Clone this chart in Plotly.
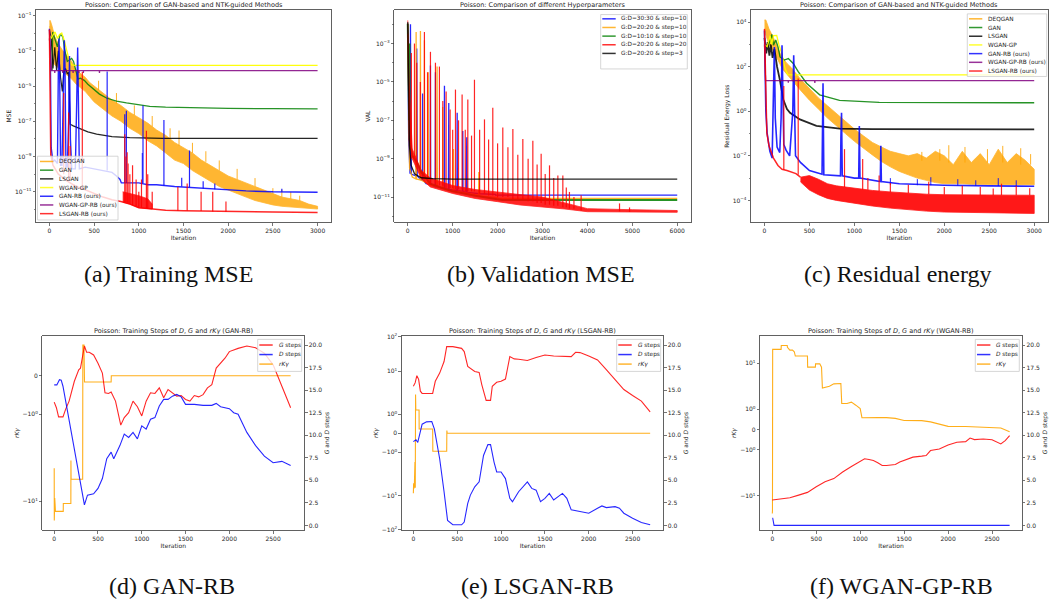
import numpy as np
import plotly.graph_objects as go

W, H = 1050, 607
FONT = "DejaVu Sans"
SERIF = "Liberation Serif"

# ============================ DATA ============================
METHODS = ["DEQGAN", "GAN", "LSGAN", "WGAN-GP", "GAN-RB (ours)", "WGAN-GP-RB (ours)", "LSGAN-RB (ours)"]
METHOD_COLORS = ["orange", "green", "black", "yellow", "blue", "purple", "red"]
HYPER = ["G:D=30:30 & step=10", "G:D=20:20 & step=10", "G:D=10:10 & step=10",
         "G:D=20:20 & step=20", "G:D=20:20 & step=3"]
HYPER_COLORS = ["blue", "orange", "green", "red", "black"]
STEP_NAMES = ["<i>G</i> steps", "<i>D</i> steps", "<i>rKγ</i>"]
STEP_COLORS = ["red", "blue", "orange"]
CAPTIONS = ["(a) Training MSE", "(b) Validation MSE", "(c) Residual energy",
            "(d) GAN-RB", "(e) LSGAN-RB", "(f) WGAN-GP-RB"]
TOP_TITLES = ["Poisson: Comparison of GAN-based and NTK-guided Methods",
              "Poisson: Comparison of different Hyperparameters",
              "Poisson: Comparison of GAN-based and NTK-guided Methods"]
BOTTOM_TITLES = ["Poisson: Training Steps of <i>D</i>, <i>G</i> and <i>rKγ</i> (GAN-RB)",
                 "Poisson: Training Steps of <i>D</i>, <i>G</i> and <i>rKγ</i> (LSGAN-RB)",
                 "Poisson: Training Steps of <i>D</i>, <i>G</i> and <i>rKγ</i> (WGAN-RB)"]

# ---------- (a) Training MSE ----------
A_DEQ_ITER = [0, 10, 30, 60, 100, 150, 200, 250, 300, 350, 400, 450, 500, 600, 700, 800, 900, 1000, 1100, 1200,
              1300, 1400, 1500, 1600, 1700, 1800, 1900, 2000, 2100, 2200, 2300, 2400, 2500, 2600, 2700, 2800, 2900, 3000]
A_DEQ_HI = [5e-2, 5.2e-2, 2.5e-2, 6.3e-3, 2.5e-3, 1e-3, 5e-4, 2.5e-4, 7.9e-5, 5e-5, 3.2e-5, 1.6e-5, 1e-5, 4e-6,
            1.6e-6, 7.9e-7, 3.2e-7, 1.6e-7, 7.9e-8, 3.2e-8, 1.6e-8, 6.3e-9, 3.2e-9, 1.6e-9, 6.3e-10, 3.2e-10,
            1.6e-10, 7.9e-11, 5e-11, 3.2e-11, 2e-11, 1.26e-11, 7.9e-12, 5e-12, 4e-12, 3.2e-12, 2e-12, 1.5e-12]
A_DEQ_LO = [2.5e-2, 1.6e-2, 2.5e-3, 1.6e-4, 1e-4, 6.3e-5, 4e-5, 2.5e-5, 1.26e-5, 7.9e-6, 5e-6, 2.5e-6, 1.26e-6,
            5e-7, 2e-7, 1e-7, 4e-8, 2e-8, 7.9e-9, 4e-9, 1.6e-9, 6.3e-10, 4e-10, 1.6e-10, 7.9e-11, 4e-11, 2e-11,
            1.26e-11, 7.9e-12, 5e-12, 3.2e-12, 2.5e-12, 1.8e-12, 1.5e-12, 1.3e-12, 1.2e-12, 1.12e-12, 1.05e-12]
A_DEQ_SPK_ITER = [550, 750, 950, 1150, 1350, 1450, 1600, 1750, 1900, 2100, 2300, 2500, 2600, 2700, 2800]
A_DEQ_SPK_BASE = [6e-6, 1e-6, 2.2e-7, 5e-8, 1e-8, 4e-9, 1.6e-9, 5e-10, 1.6e-10, 5e-11, 2e-11, 7.9e-12, 5e-12,
                  4e-12, 3.2e-12]
A_DEQ_SPK_PEAK = [2e-5, 4e-6, 8e-7, 2e-7, 4e-8, 3e-8, 6e-9, 2e-9, 6e-10, 2e-10, 6e-11, 1.6e-11, 1.3e-11, 1e-11,
                  6e-12]
A_GAN_ITER = [30, 37, 60, 89, 120, 150, 170, 200, 230, 249, 270, 290, 320, 345, 365, 390, 430, 501, 560, 638,
              750, 862, 1000, 1122, 1300, 1493, 2000, 2500, 3000]
A_GAN_MSE = [7.9e-5, 1.17e-2, 5e-3, 1.66e-3, 8.9e-3, 6.3e-3, 1.26e-3, 2.5e-4, 3.2e-4, 3.7e-4, 2.5e-4, 1e-4,
             2.5e-5, 2.8e-5, 2.4e-5, 2.1e-5, 1.26e-5, 6.2e-6, 3.5e-6, 2.1e-6, 1.4e-6, 1.1e-6, 8.3e-7, 7.1e-7,
             6.3e-7, 5.9e-7, 5.4e-7, 5.2e-7, 5.1e-7]
A_LSGAN_ITER = [0, 20, 40, 60, 80, 100, 125, 145, 160, 180, 200, 215, 225, 232, 267, 350, 430, 528, 700, 899,
                1270, 2000, 3000]
A_LSGAN_MSE = [1.5e-2, 5e-3, 1e-4, 1.6e-3, 8e-5, 1e-3, 3e-5, 5e-6, 6e-5, 1e-4, 5e-5, 6e-5, 1e-6, 6.8e-8,
               5.5e-8, 3.5e-8, 2.5e-8, 1.86e-8, 1.35e-8, 1.2e-8, 1.07e-8, 1.07e-8, 1.07e-8]
A_WGP_ITER = [0, 20, 40, 63, 90, 110, 138, 165, 193, 220, 249, 300, 3000]
A_WGP_MSE = [7.9e-3, 5e-3, 7.9e-3, 1.17e-2, 5e-3, 7.9e-3, 1.02e-2, 4e-3, 1.1e-3, 3.2e-4, 1.6e-4, 1.5e-4, 1.5e-4]
A_GANRB_ITER = [0, 10, 20, 40, 60, 90, 100, 108, 116, 125, 140, 155, 167, 175, 185, 200, 215, 225, 235, 250,
                290, 305, 316, 325, 335, 400, 500, 600, 700, 750, 790, 805, 900, 1000, 1100, 1200, 1400, 1560,
                1700, 1800, 2000, 2200, 2500, 3000]
A_GANRB_MSE = [1.8e-2, 1e-3, 3.2e-9, 5e-10, 6.3e-10, 4e-10, 1e-4, 5e-3, 1e-5, 3.2e-10, 3.2e-10, 1e-6, 4e-3,
               1e-4, 2.5e-10, 2.5e-10, 1e-7, 5e-4, 1e-8, 2e-10, 2e-10, 1e-6, 1.55e-3, 1e-6, 2e-10, 2.5e-10,
               2e-10, 1.6e-10, 1.26e-10, 7.9e-11, 5e-11, 3.2e-11, 3.2e-11, 3.2e-11, 2.5e-11, 2.5e-11, 2e-11,
               1.8e-11, 1.6e-11, 1.4e-11, 1.26e-11, 1.12e-11, 1e-11, 9.5e-12]
A_GANRB_SPK_ITER = [646, 843, 861, 1040, 1047, 1281, 1480, 1567, 1720, 1850, 2600]
A_GANRB_SPK_BASE = [1.6e-10, 3.2e-11, 3.2e-11, 3.2e-11, 3.2e-11, 2.2e-11, 2e-11, 1.8e-11, 1.6e-11, 1.4e-11, 1e-11]
A_GANRB_SPK_PEAK = [6.6e-5, 2.5e-7, 4e-7, 1.6e-9, 7.9e-7, 1.2e-7, 6.3e-11, 2.2e-9, 4e-11, 3e-11, 1.5e-11]
A_WGPRB_ITER = [0, 15, 25, 58, 60, 62, 148, 150, 152, 263, 265, 267, 328, 330, 332, 378, 380, 382, 558, 560,
                562, 3000]
A_WGPRB_MSE = [5e-3, 2e-4, 7.6e-5, 7.6e-5, 5.5e-5, 7.6e-5, 7.6e-5, 5.5e-5, 7.6e-5, 7.6e-5, 5.5e-5, 7.6e-5,
               7.6e-5, 5.5e-5, 7.6e-5, 7.6e-5, 5.5e-5, 7.6e-5, 7.6e-5, 5.5e-5, 7.6e-5, 7.6e-5]
A_LSRB_ITER = [0, 8, 15, 40, 100, 200, 300, 400, 500, 600, 700, 800, 900, 1000, 1100, 1200, 1300, 1500, 2000,
               2500, 3000]
A_LSRB_MSE = [1.6e-2, 1e-5, 1.26e-9, 3.2e-10, 1e-10, 4e-11, 2e-11, 1.3e-11, 7.9e-12, 5e-12, 3.5e-12, 2.8e-12,
              2e-12, 1.26e-12, 1.12e-12, 1e-12, 8.9e-13, 8.3e-13, 7.4e-13, 7.1e-13, 6.6e-13]
A_LSRB_BAND_ITER = [820, 900, 1000, 1100, 1150]
A_LSRB_BAND_HI = [1e-11, 8e-12, 6e-12, 4e-12, 2e-12]
A_LSRB_BAND_LO = [2.6e-12, 2e-12, 1.26e-12, 1.12e-12, 1.05e-12]
A_LSRB_SPK_ITER = [160, 215, 232, 368, 843, 855, 870, 880, 900, 930, 970, 1000, 1030, 1085, 1100, 1150, 1437,
                   1541, 1697, 1827, 1975]
A_LSRB_SPK_BASE = [1e-10, 5e-11, 5e-11, 1.5e-11, 2.5e-12, 2.5e-12, 2.5e-12, 2.2e-12, 2e-12, 1.8e-12, 1.5e-12,
                   1.3e-12, 1.3e-12, 1.15e-12, 1.1e-12, 1.05e-12, 8.5e-13, 8.3e-13, 8e-13, 7.7e-13, 7.4e-13]
A_LSRB_SPK_PEAK = [4e-6, 3.2e-7, 4e-9, 6.3e-5, 1.86e-8, 1e-9, 1.74e-9, 4e-10, 1e-10, 3.2e-10, 5e-11, 1e-11,
                   5e-11, 2.9e-8, 1e-10, 1e-11, 1.9e-11, 2.95e-11, 1e-11, 1e-11, 2.8e-12]

# ---------- (b) Validation MSE ----------
B_H1_ITER = [0, 20, 50, 55, 60, 66, 80, 190, 200, 210, 300, 325, 330, 335, 408, 500, 505, 510, 610, 616, 622,
             810, 817, 824, 905, 913, 920, 1095, 1100, 1105, 1220, 1225, 1230, 1300, 1314, 1320, 1600, 1950,
             1955, 6000]
B_H1_VAL = [5e-3, 1e-8, 1.66e-10, 1e-5, 1e-2, 1e-6, 1.6e-10, 1.26e-10, 5.5e-4, 1.26e-10, 7.9e-11, 7.9e-11,
            2.5e-6, 7.9e-11, 5e-11, 4.5e-11, 7.1e-5, 4.5e-11, 3.5e-11, 3.2e-5, 3.5e-11, 2.8e-11, 6.3e-6,
            2.8e-11, 2.5e-11, 8.1e-7, 2.5e-11, 2.2e-11, 2.5e-7, 2.2e-11, 2e-11, 2.8e-8, 2e-11, 1.74e-11,
            1.3e-8, 1.74e-11, 1.5e-11, 1.38e-11, 1.26e-11, 1.26e-11]
B_H2_ITER = [0, 15, 40, 100, 180, 186, 192, 276, 282, 288, 365, 371, 377, 450, 456, 462, 500, 647, 653, 659,
             775, 780, 785, 1012, 1017, 1022, 1200, 1577, 1582, 1587, 1600, 2000, 2020, 6000]
B_H2_VAL = [3.2e-3, 1e-7, 3.2e-10, 1.12e-10, 8.9e-11, 4e-3, 8.9e-11, 7.9e-11, 4.5e-3, 7.9e-11, 6.3e-11,
            1.5e-3, 6.3e-11, 5e-11, 3.2e-5, 5e-11, 4.2e-11, 3.5e-11, 6.3e-5, 3.5e-11, 2.8e-11, 5e-7, 2.8e-11,
            2e-11, 3.2e-9, 2e-11, 1.8e-11, 1.26e-11, 2e-10, 1.26e-11, 1.17e-11, 9.3e-12, 8.5e-12, 8.5e-12]
B_H3_ITER = [0, 10, 20, 30, 37, 45, 100, 200, 300, 500, 800, 1000, 1500, 2000, 2100, 6000]
B_H3_VAL = [1.07e-2, 1e-4, 1e-3, 1e-7, 1e-3, 1e-8, 1.45e-9, 6.6e-10, 2e-10, 5e-11, 2.8e-11, 2e-11, 1.17e-11,
            7.9e-12, 7.1e-12, 7.1e-12]
B_H4_ITER = [0, 30, 100, 300, 500, 1000, 1500, 2000, 2500, 3000, 3500, 4000, 5000, 6000]
B_H4_HI = [1.6e-2, 1e-5, 3.2e-9, 2.5e-10, 1e-10, 4e-11, 2.5e-11, 1.86e-11, 1.4e-11, 1e-11, 5e-12, 2.5e-12,
           2.2e-12, 2e-12]
B_H4_LO = [3.2e-3, 1e-8, 1e-9, 9.1e-11, 3.4e-11, 1.55e-11, 8.5e-12, 5.8e-12, 3.9e-12, 3.2e-12, 2.4e-12,
           1.74e-12, 1.62e-12, 1.62e-12]
B_H4_SPK_ITER = [80, 149, 200, 280, 371, 440, 505, 616, 705, 780, 854, 943, 1000, 1062, 1130, 1210, 1280, 1337,
                 1420, 1485, 1600, 1708, 1800, 1893, 2000, 2116, 2230, 2340, 2450, 2562, 2680, 2785, 2880, 2970,
                 3060, 3156, 3250, 3342, 3453, 3530, 3600, 3700, 3860, 4715, 4938]
B_H4_SPK_BASE = [1e-9, 1e-9, 5e-10, 2.5e-10, 1e-10, 1e-10, 5e-11, 5e-11, 4e-11, 4e-11, 3e-11, 3e-11, 3e-11,
                 2.5e-11, 2.5e-11, 2.5e-11, 2e-11, 2e-11, 2e-11, 2e-11, 1.5e-11, 1.5e-11, 1.2e-11, 1.2e-11,
                 1e-11, 1e-11, 1e-11, 8e-12, 8e-12, 7e-12, 6e-12, 6e-12, 5e-12, 5e-12, 4e-12, 4e-12, 3.5e-12,
                 3.5e-12, 3e-12, 3e-12, 2.5e-12, 2.5e-12, 2e-12, 1.8e-12, 1.7e-12]
B_H4_SPK_PEAK = [3.2e-4, 1e-3, 1e-4, 1e-5, 4e-3, 3.2e-5, 3.7e-4, 1e-4, 6.3e-5, 1e-6, 3.2e-6, 3.7e-7, 3.2e-8,
                 4e-6, 1e-7, 2.2e-6, 3.2e-8, 1.2e-6, 1.6e-8, 1.3e-5, 3.2e-8, 1.12e-7, 1e-8, 4.5e-7, 6.3e-9,
                 4.2e-8, 4e-9, 3.5e-8, 1.6e-9, 1.05e-8, 1e-9, 8.7e-9, 5e-10, 1.8e-9, 1.6e-10, 4.5e-10, 1e-10,
                 1.35e-10, 1.35e-10, 3.2e-11, 1.86e-11, 1e-11, 1.26e-11, 4.7e-12, 2.9e-12]
B_H5_ITER = [0, 8, 20, 37, 74, 150, 300, 557, 1000, 6000]
B_H5_VAL = [1.3e-2, 1e-3, 1e-6, 4.8e-9, 4.5e-10, 1.66e-10, 1.02e-10, 9.1e-11, 8.7e-11, 8.7e-11]

# ---------- (c) Residual energy ----------
C_DEQ_ITER = [0, 15, 50, 100, 150, 200, 250, 300, 400, 500, 600, 700, 800, 900, 1000, 1100, 1200, 1300, 1400,
              1500, 1600, 1700, 1800, 1900, 2000, 2100, 2200, 2300, 2400, 2500, 2600, 2700, 2800, 2900, 3000]
C_DEQ_HI = [12589, 12589, 5012, 1995, 631, 251, 141, 89, 28, 10, 4, 1.78, 0.79, 0.35, 0.16, 0.079, 0.04, 0.025,
            0.016, 0.0126, 0.01, 0.0126, 0.0079, 0.016, 0.01, 0.004, 0.016, 0.005, 0.0126, 0.004, 0.02, 0.005,
            0.0126, 0.0063, 0.0025]
C_DEQ_LO = [3981, 3162, 1000, 501, 200, 79, 45, 28, 8.9, 3.16, 1.26, 0.5, 0.22, 0.1, 0.045, 0.022, 0.011,
            0.0056, 0.0032, 0.002, 0.0014, 0.001, 0.00079, 0.00063, 0.00056, 0.00056, 0.00056, 0.00053,
            0.00053, 0.0005, 0.0005, 0.0005, 0.0005, 0.0005, 0.0005]
C_DEQ_SPK_ITER = [1750, 1950, 2050, 2230, 2480, 2650, 2850, 2960]
C_DEQ_SPK_BASE = [0.006, 0.006, 0.005, 0.005, 0.005, 0.005, 0.004, 0.004]
C_DEQ_SPK_PEAK = [0.015, 0.02, 0.03, 0.025, 0.02, 0.028, 0.022, 0.012]
C_GAN_ITER = [0, 40, 81, 100, 125, 150, 173, 220, 265, 320, 375, 468, 614, 835, 1276, 2000, 3000]
C_GAN_LOSS = [1000, 794, 2818, 933, 1585, 794, 275, 200, 234, 141, 60, 18.2, 5.5, 3.1, 2.5, 2.4, 2.4]
C_LSGAN_ITER = [0, 20, 35, 55, 70, 90, 110, 140, 171, 210, 250, 284, 394, 578, 835, 1200, 3000]
C_LSGAN_LOSS = [1995, 398, 1259, 316, 1000, 251, 631, 100, 25.7, 3.3, 1.26, 0.85, 0.43, 0.22, 0.166, 0.158,
                0.155]
C_WGP_ITER = [0, 30, 63, 80, 100, 136, 160, 192, 230, 260, 300, 3000]
C_WGP_LOSS = [1000, 794, 2512, 1000, 2512, 2570, 1000, 389, 79, 44.7, 42.7, 42.7]
C_GANRB_ITER = [0, 5, 15, 30, 60, 85, 100, 110, 120, 140, 170, 185, 195, 205, 215, 240, 280, 315, 325, 335,
                345, 400, 500, 640, 651, 660, 800, 845, 850, 857, 865, 1000, 1048, 1055, 1062, 1200, 1288,
                1294, 1300, 1500, 2000, 2500, 3000]
C_GANRB_LOSS = [4266, 100, 1, 0.1, 0.016, 0.0079, 3.16, 776, 0.5, 0.025, 0.014, 0.5, 912, 0.5, 0.032, 0.018,
                0.01, 1, 331, 1, 0.01, 0.0051, 0.0022, 0.0015, 18.2, 0.0014, 0.0013, 0.00126, 0.063, 0.85,
                0.00126, 0.001, 0.001, 0.22, 0.001, 0.00079, 0.0007, 0.028, 0.0007, 0.00056, 0.00048,
                0.00045, 0.00043]
C_GANRB_SPK_ITER = [1400, 1700, 1850, 2150, 2350, 2600, 2800]
C_GANRB_SPK_BASE = [5e-4, 4.8e-4, 4.8e-4, 4.6e-4, 4.5e-4, 4.4e-4, 4.4e-4]
C_GANRB_SPK_PEAK = [1e-3, 9e-4, 1.1e-3, 9e-4, 8e-4, 1e-3, 8e-4]
C_WGPRB_ITER = [0, 5, 12, 263, 265, 267, 557, 560, 563, 3000]
C_WGPRB_LOSS = [1000, 100, 24, 24, 19, 24, 24, 19, 24, 24]
C_LSRB_ITER = [0, 5, 15, 26, 50, 100, 150, 195, 250, 300, 350, 400]
C_LSRB_LOSS = [5012, 316, 3.16, 0.11, 0.028, 0.0079, 0.0037, 0.0025, 0.0022, 0.0018, 0.0016, 0.0011]
C_LSRB_BAND_ITER = [400, 500, 600, 700, 800, 900, 1000, 1200, 1400, 1600, 1800, 2000, 2500, 3000]
C_LSRB_HI = [0.0011, 0.0013, 8.9e-4, 5.6e-4, 4.5e-4, 4e-4, 3.4e-4, 2.8e-4, 2.4e-4, 2.1e-4, 1.9e-4, 1.8e-4,
             1.7e-4, 1.7e-4]
C_LSRB_LO = [6.8e-4, 2.9e-4, 1.8e-4, 1.23e-4, 1e-4, 8.3e-5, 7.2e-5, 5.6e-5, 4.5e-5, 3.8e-5, 3.3e-5, 3e-5,
             2.75e-5, 2.6e-5]
C_LSRB_SPK_ITER = [215, 375, 890, 1092, 1150, 1275, 1400, 1600, 1827, 2000, 2200, 2400, 2544, 2636, 2800, 2950]
C_LSRB_SPK_BASE = [0.0024, 0.0014, 4e-4, 3e-4, 3e-4, 2.6e-4, 2.4e-4, 2.1e-4, 1.9e-4, 1.8e-4, 1.8e-4, 1.7e-4,
                   1.7e-4, 1.7e-4, 1.7e-4, 1.7e-4]
C_LSRB_SPK_PEAK = [13.5, 30, 0.02, 0.0072, 1e-3, 0.0013, 6e-4, 5e-4, 6.8e-4, 4e-4, 4.5e-4, 4e-4, 3.4e-4,
                   5.6e-4, 4.5e-4, 3.5e-4]

# ---------- (d) GAN-RB training steps ----------
D_G_ITER = [0, 25, 50, 100, 130, 170, 230, 280, 300, 330, 345, 370, 400, 450, 500, 550, 580, 620, 650, 700,
            760, 800, 850, 900, 950, 1000, 1050, 1100, 1150, 1200, 1250, 1300, 1350, 1400, 1450, 1500, 1550,
            1600, 1650, 1700, 1750, 1800, 1850, 1900, 1950, 2000, 2100, 2200, 2300, 2400, 2500, 2600, 2700]
D_G_STEPS = [13.67, 13.05, 12.03, 12.03, 12.87, 13.78, 15.98, 17.26, 17.44, 19.45, 19.89, 19.2, 19.2, 18.9,
             17.99, 16.89, 14.7, 14.63, 14.8, 13.78, 11.12, 11.96, 12.5, 13.78, 13.16, 12.14, 13.78, 14.7,
             14.63, 15.25, 14.15, 15.06, 14.7, 14.33, 14.4, 13.97, 13.78, 14.4, 14.25, 14.5, 15.25, 15.6,
             17.44, 17.99, 18.54, 19.27, 19.63, 19.89, 19.7, 19.09, 17.8, 15.43, 13.05]
D_D_ITER = [0, 30, 60, 80, 100, 200, 300, 345, 380, 450, 500, 550, 600, 650, 680, 750, 800, 850, 900, 950,
            1000, 1050, 1100, 1150, 1200, 1250, 1300, 1350, 1400, 1450, 1500, 1600, 1700, 1800, 1850, 1900,
            2000, 2050, 2100, 2200, 2300, 2400, 2500, 2600, 2700]
D_D_STEPS = [15.58, 15.58, 16.16, 16.1, 15.43, 9.95, 4.83, 2.27, 3.36, 3.5, 4.1, 5.19, 7.39, 8.12, 7.39, 8.85,
             10.13, 9.76, 10.31, 9.6, 11.04, 10.68, 11.77, 11.95, 13.24, 13.97, 13.97, 14.33, 14.52, 14.25,
             13.42, 13.42, 13.31, 13.31, 13.53, 13.16, 12.94, 12.5, 12.32, 10.31, 8.85, 7.68, 6.95, 7.1, 6.65]
D_RKG_ITER = [0, 1, 3, 6, 10, 14, 103, 104, 190, 191, 193, 325, 327, 340, 342, 346, 650, 652, 2700]
D_RKG_VAL = [-3.35, -19, -5, -9, -11, -14, -14, -10.8, -10.8, -2.6, -4.84, -4.84, 0.79, 0.79, 0, -0.17, -0.17,
             -0.01, -0.01]

# ---------- (e) LSGAN-RB training steps ----------
E_G_ITER = [0, 20, 40, 60, 80, 100, 220, 250, 300, 350, 380, 450, 550, 580, 620, 700, 750, 780, 830, 880, 900,
            950, 1000, 1050, 1100, 1150, 1200, 1300, 1400, 1500, 1600, 1700, 1800, 1850, 1900, 2000, 2100,
            2200, 2300, 2400, 2500, 2600, 2700]
E_G_STEPS = [15.43, 15.8, 16.6, 16.2, 14.88, 14.63, 14.63, 15.98, 16.89, 18.17, 19.82, 19.82, 19.63, 19.27,
             17.62, 17.07, 16.96, 15.61, 13.86, 13.86, 15.43, 15.87, 15.98, 16.23, 18.72, 18.46, 18.43, 18.28,
             18.61, 18.9, 18.79, 18.79, 18.72, 19.2, 19.16, 18.79, 18.35, 17.26, 16.16, 15.06, 14.4, 13.78,
             12.58]
E_D_ITER = [0, 30, 50, 80, 100, 150, 210, 240, 300, 350, 390, 450, 550, 580, 620, 650, 700, 750, 800, 850, 880,
            920, 950, 1000, 1050, 1100, 1130, 1200, 1250, 1300, 1350, 1400, 1450, 1500, 1550, 1600, 1700, 1750,
            1800, 1900, 2000, 2100, 2150, 2200, 2300, 2350, 2400, 2500, 2600, 2700]
E_D_STEPS = [9.29, 9.5, 9.2, 10.31, 11.22, 11.48, 11.52, 10.68, 7.39, 3.73, 0.55, 0.07, 0.07, 0.37, 2.45,
             3.36, 4.28, 4.83, 7.75, 8.96, 8.96, 7.02, 5.92, 5.92, 5.19, 3.0, 2.63, 3.73, 4.28, 4.83, 4.1,
             3.91, 2.63, 3.0, 3.55, 2.81, 3.55, 3.0, 1.72, 1.54, 1.35, 1.9, 2.16, 1.97, 2.08, 1.9, 1.35, 0.8,
             0.33, 0.07]
E_RKG_ITER = [0, 3, 8, 12, 18, 22, 25, 28, 65, 66, 220, 222, 380, 382, 386, 2700]
E_RKG_VAL = [-8.6, -4.42, -6.2, -4.4, -1.5, -6.0, 2.09, 1.22, 1.22, 0.225, 0.225, -0.945, -0.945, 0.14, 0.0, 0.0]

# ---------- (f) WGAN-GP-RB training steps ----------
F_G_ITER = [0, 100, 200, 300, 400, 500, 600, 700, 800, 900, 1000, 1050, 1100, 1150, 1200, 1250, 1300, 1400,
            1450, 1500, 1600, 1700, 1750, 1800, 1900, 2000, 2100, 2200, 2250, 2300, 2400, 2500, 2550, 2600,
            2650, 2700]
F_G_STEPS = [2.82, 2.93, 3.07, 3.36, 3.66, 4.28, 4.83, 5.19, 5.92, 6.54, 7.09, 7.39, 7.31, 7.2, 6.95, 6.65,
             6.65, 6.76, 7.02, 7.2, 7.57, 7.68, 7.75, 8.3, 8.48, 8.92, 9.22, 9.29, 9.69, 9.51, 9.58, 9.5, 9.29,
             9.03, 9.4, 9.95]
F_D_ITER = [0, 5, 20, 2700]
F_D_STEPS = [0.8, 0.8, 0.0, 0.0]
F_RKG_ITER = [0, 2, 4, 100, 102, 170, 172, 200, 230, 250, 262, 400, 402, 490, 492, 540, 560, 570, 650, 700, 780,
              790, 850, 900, 950, 1000, 1020, 1100, 1200, 1300, 1400, 1500, 1600, 1700, 1800, 1900, 2000, 2200,
              2400, 2500, 2600, 2700]
F_RKG_VAL = [-30.2, -25, 24.0, 24.0, 30.5, 30.5, 27.2, 22.9, 22.9, 20.7, 15.8, 15.8, 7.85, 7.85, 9.66, 9.66,
             7.85, 2.11, 2.35, 2.75, 2.8, 1.28, 1.28, 1.35, 1.2, 1.03, 0.585, 0.6, 0.59, 0.59, 0.55, 0.45, 0.46,
             0.44, 0.38, 0.27, 0.16, 0.15, 0.1, 0.1, 0.08, -0.1]


# ============================ HELPERS ============================
def symlog(v, linthresh=2.0, base=10.0, linscale=1.0):
    """matplotlib-style symmetric log scale transform."""
    v = np.asarray(v, dtype=float)
    adj = linscale / (1.0 - 1.0 / base)
    a = np.abs(v)
    logpart = np.sign(v) * linthresh * (adj + np.log10(np.maximum(a, linthresh) / linthresh) / np.log10(base))
    return np.where(a <= linthresh, v * adj, logpart)


def dom_x(p0, p1):
    return [p0 / W, p1 / W]


def dom_y(p0, p1):
    return [1 - p1 / H, 1 - p0 / H]


def sup(e):
    return "10<sup>" + ("−" if e < 0 else "") + str(abs(e)) + "</sup>"


fig = go.Figure()


def add_line(xa, ya, x, y, color, width=1.2, opacity=0.85):
    fig.add_trace(go.Scatter(x=list(x), y=list(y), mode="lines", xaxis=xa, yaxis=ya,
                             line=dict(color=color, width=width), opacity=opacity,
                             showlegend=False, hoverinfo="skip"))


def add_band(xa, ya, x, hi, lo, color, opacity=0.85):
    xs = list(x) + list(x)[::-1]
    ys = list(hi) + list(lo)[::-1]
    fig.add_trace(go.Scatter(x=xs, y=ys, mode="lines", fill="toself", fillcolor=color, xaxis=xa, yaxis=ya,
                             line=dict(color=color, width=0.8), opacity=opacity,
                             showlegend=False, hoverinfo="skip"))


def add_spikes(xa, ya, sx, base, peak, color, width=1.0, opacity=0.85):
    xs, ys = [], []
    for a, b, c in zip(sx, base, peak):
        xs += [a, a, None]
        ys += [b, c, None]
    fig.add_trace(go.Scatter(x=xs, y=ys, mode="lines", xaxis=xa, yaxis=ya, connectgaps=False,
                             line=dict(color=color, width=width), opacity=opacity,
                             showlegend=False, hoverinfo="skip"))


# ============================ TRACES ============================
c = dict(zip(METHODS, METHOD_COLORS))
# (a)
add_band("x", "y", A_DEQ_ITER, A_DEQ_HI, A_DEQ_LO, c["DEQGAN"], 0.8)
add_spikes("x", "y", A_DEQ_SPK_ITER, A_DEQ_SPK_BASE, A_DEQ_SPK_PEAK, c["DEQGAN"], 1.0)
add_line("x", "y", A_GAN_ITER, A_GAN_MSE, c["GAN"], 1.3)
add_line("x", "y", A_LSGAN_ITER, A_LSGAN_MSE, c["LSGAN"], 1.2)
add_line("x", "y", A_WGP_ITER, A_WGP_MSE, c["WGAN-GP"], 1.3, 0.95)
add_line("x", "y", A_GANRB_ITER, A_GANRB_MSE, c["GAN-RB (ours)"], 1.4)
add_spikes("x", "y", A_GANRB_SPK_ITER, A_GANRB_SPK_BASE, A_GANRB_SPK_PEAK, c["GAN-RB (ours)"], 1.2)
add_line("x", "y", A_WGPRB_ITER, A_WGPRB_MSE, c["WGAN-GP-RB (ours)"], 1.3)
add_line("x", "y", A_LSRB_ITER, A_LSRB_MSE, c["LSGAN-RB (ours)"], 1.5)
add_band("x", "y", A_LSRB_BAND_ITER, A_LSRB_BAND_HI, A_LSRB_BAND_LO, c["LSGAN-RB (ours)"], 0.85)
add_spikes("x", "y", A_LSRB_SPK_ITER, A_LSRB_SPK_BASE, A_LSRB_SPK_PEAK, c["LSGAN-RB (ours)"], 1.2)

# (b)
add_line("x2", "y2", B_H1_ITER, B_H1_VAL, HYPER_COLORS[0], 1.3)
add_line("x2", "y2", B_H2_ITER, B_H2_VAL, HYPER_COLORS[1], 1.3)
add_line("x2", "y2", B_H3_ITER, B_H3_VAL, HYPER_COLORS[2], 2.0)
add_band("x2", "y2", B_H4_ITER, B_H4_HI, B_H4_LO, HYPER_COLORS[3], 0.85)
add_spikes("x2", "y2", B_H4_SPK_ITER, B_H4_SPK_BASE, B_H4_SPK_PEAK, HYPER_COLORS[3], 1.2)
add_line("x2", "y2", B_H5_ITER, B_H5_VAL, HYPER_COLORS[4], 1.3)

# (c)
add_band("x3", "y3", C_DEQ_ITER, C_DEQ_HI, C_DEQ_LO, c["DEQGAN"], 0.8)
add_spikes("x3", "y3", C_DEQ_SPK_ITER, C_DEQ_SPK_BASE, C_DEQ_SPK_PEAK, c["DEQGAN"], 1.0)
add_line("x3", "y3", C_GAN_ITER, C_GAN_LOSS, c["GAN"], 1.4)
add_line("x3", "y3", C_LSGAN_ITER, C_LSGAN_LOSS, c["LSGAN"], 1.8)
add_line("x3", "y3", C_WGP_ITER, C_WGP_LOSS, c["WGAN-GP"], 1.3, 0.95)
add_line("x3", "y3", C_GANRB_ITER, C_GANRB_LOSS, c["GAN-RB (ours)"], 1.6)
add_spikes("x3", "y3", C_GANRB_SPK_ITER, C_GANRB_SPK_BASE, C_GANRB_SPK_PEAK, c["GAN-RB (ours)"], 1.0)
add_line("x3", "y3", C_WGPRB_ITER, C_WGPRB_LOSS, c["WGAN-GP-RB (ours)"], 1.3)
add_line("x3", "y3", C_LSRB_ITER, C_LSRB_LOSS, c["LSGAN-RB (ours)"], 1.5)
add_band("x3", "y3", C_LSRB_BAND_ITER, C_LSRB_HI, C_LSRB_LO, c["LSGAN-RB (ours)"], 0.9)
add_spikes("x3", "y3", C_LSRB_SPK_ITER, C_LSRB_SPK_BASE, C_LSRB_SPK_PEAK, c["LSGAN-RB (ours)"], 1.2)

# (d)(e)(f): rKγ on left symlog axis, steps on right linear axis
bottom = [
    ("x4", "y4", "y5", D_RKG_ITER, D_RKG_VAL, D_G_ITER, D_G_STEPS, D_D_ITER, D_D_STEPS),
    ("x5", "y6", "y7", E_RKG_ITER, E_RKG_VAL, E_G_ITER, E_G_STEPS, E_D_ITER, E_D_STEPS),
    ("x6", "y8", "y9", F_RKG_ITER, F_RKG_VAL, F_G_ITER, F_G_STEPS, F_D_ITER, F_D_STEPS),
]
for xa, yl, yr, rx, rv, gx, gy, dx, dy in bottom:
    add_line(xa, yl, rx, symlog(rv), STEP_COLORS[2], 1.1, 0.9)
    add_line(xa, yr, gx, gy, STEP_COLORS[0], 1.1, 0.85)
    add_line(xa, yr, dx, dy, STEP_COLORS[1], 1.1, 0.85)

# ============================ AXES ============================
AX_COL = "#3a3a3a"
TICKFONT = dict(family=FONT, size=6, color="#262626")
LABFONT = dict(family=FONT, size=6, color="#262626")
base = dict(showline=True, linecolor=AX_COL, linewidth=0.8, ticks="outside", ticklen=2.5, tickwidth=0.7,
            tickcolor=AX_COL, tickfont=TICKFONT, showgrid=False, zeroline=False, fixedrange=True)

layout = dict(width=W, height=H, autosize=False, margin=dict(l=0, r=0, t=0, b=0),
              paper_bgcolor="white", plot_bgcolor="white", showlegend=False)

top_specs = [
    ("xaxis", "yaxis", "x", "y", (36, 331), [-150, 3150], list(range(0, 3001, 500)), [-12.74, -0.68],
     [-1, -3, -5, -7, -9, -11], [-2, -4, -6, -8, -10, -12], "MSE"),
    ("xaxis2", "yaxis2", "x2", "y2", (394.3, 690.7), [-300, 6300], list(range(0, 6001, 1000)), [-12.32, -1.25],
     [-3, -5, -7, -9, -11], [-2, -4, -6, -8, -10, -12], "VAL"),
    ("xaxis3", "yaxis3", "x3", "y3", (751, 1047.7), [-150, 3150], list(range(0, 3001, 500)), [-4.99, 4.55],
     [4, 2, 0, -2, -4], [3, 1, -1, -3], "Residual Energy Loss"),
]
for xk, yk, xn, yn, (p0, p1), xr, xt, yr, ymaj, ymin, ylab in top_specs:
    layout[xk] = dict(base, domain=dom_x(p0, p1), anchor=yn, range=xr, tickvals=xt, mirror=True,
                      title=dict(text="Iteration", font=LABFONT, standoff=1))
    layout[yk] = dict(base, domain=dom_y(6, 221), anchor=xn, type="log", range=yr, mirror=True,
                      tickvals=[10.0 ** e for e in ymaj], ticktext=[sup(e) for e in ymaj],
                      minor=dict(tickvals=[10.0 ** e for e in ymin], ticks="outside", ticklen=1.5,
                                 tickwidth=0.6, tickcolor=AX_COL),
                      title=dict(text=ylab, font=LABFONT, standoff=2))

STEP_TICKS = [0, 2.5, 5, 7.5, 10, 12.5, 15, 17.5, 20]
bot_specs = [
    ("xaxis4", "yaxis4", "yaxis5", "x4", "y4", (42.3, 304.3), [-136, 2856], [-4.46, 1.14], [0, -1, -10],
     ["0", "−10<sup>0</sup>", "−10<sup>1</sup>"]),
    ("xaxis5", "yaxis6", "yaxis7", "x5", "y6", (401.7, 663.3), [-133, 2850], [-5.65, 5.67],
     [100, 10, 1, 0, -1, -10, -100],
     ["10<sup>2</sup>", "10<sup>1</sup>", "10<sup>0</sup>", "0", "−10<sup>0</sup>", "−10<sup>1</sup>",
      "−10<sup>2</sup>"]),
    ("xaxis6", "yaxis8", "yaxis9", "x6", "y8", (760, 1022), [-140, 2841], [-5.5, 5.12], [10, 1, 0, -1, -10],
     ["10<sup>1</sup>", "10<sup>0</sup>", "0", "−10<sup>0</sup>", "−10<sup>1</sup>"]),
]
for xk, ylk, yrk, xn, yln, (p0, p1), xr, yr, tv, tt in bot_specs:
    layout[xk] = dict(base, domain=dom_x(p0, p1), anchor=yln, range=xr, tickvals=list(range(0, 2501, 500)),
                      mirror=True, title=dict(text="Iteration", font=LABFONT, standoff=1))
    layout[ylk] = dict(base, domain=dom_y(335.7, 532.5), anchor=xn, range=yr,
                       tickvals=list(symlog(tv)), ticktext=tt,
                       title=dict(text="<i>rKγ</i>", font=LABFONT, standoff=2))
    layout[yrk] = dict(base, overlaying=yln, side="right", anchor=xn, range=[-0.55, 21.02],
                       tickvals=STEP_TICKS, ticktext=["%.1f" % t for t in STEP_TICKS],
                       title=dict(text="<i>G</i> and <i>D</i> steps", font=LABFONT, standoff=3))

# ============================ TEXT / LEGENDS ============================
annotations = []
shapes = []


def ann(x, y, text, size, family=FONT, xanchor="center", yanchor="middle", color="#262626"):
    annotations.append(dict(x=x / W, y=1 - y / H, xref="paper", yref="paper", text=text, showarrow=False,
                            xanchor=xanchor, yanchor=yanchor, font=dict(family=family, size=size, color=color)))


for cx, t in zip([183.5, 542.5, 899.4], TOP_TITLES):
    ann(cx, 1.5, t, 6.5)
for cx, t in zip([173.3, 532.5, 891], BOTTOM_TITLES):
    ann(cx, 330.7, t, 6.5)
for (cx, cy), t in zip([(168, 273), (541, 273), (898, 273), (172, 589), (537, 589), (901, 589)], CAPTIONS):
    ann(cx, cy, t, 24, SERIF, color="#111111")


def legend(box, row0, step, sx0, sx1, tx, names, colors, opacity=0.8):
    x0, y0, x1, y1 = box
    shapes.append(dict(type="rect", xref="paper", yref="paper", x0=x0 / W, x1=x1 / W, y0=1 - y1 / H,
                       y1=1 - y0 / H, fillcolor="rgba(255,255,255,0.8)", line=dict(color="#cccccc", width=0.8),
                       layer="above"))
    for i, (nm, col) in enumerate(zip(names, colors)):
        ry = row0 + i * step
        shapes.append(dict(type="line", xref="paper", yref="paper", x0=sx0 / W, x1=sx1 / W, y0=1 - ry / H,
                           y1=1 - ry / H, line=dict(color=col, width=1.5), opacity=opacity, layer="above"))
        ann(tx, ry, nm, 5.8, xanchor="left")


legend((37.5, 154, 118, 218.5), 159.3, 8.8, 40, 53.3, 57.3, METHODS, METHOD_COLORS)
legend((600.7, 10.7, 687.3, 65.7), 15, 8.75, 602.3, 615.7, 618.7, HYPER, HYPER_COLORS)
legend((967.3, 10, 1046.7, 73.3), 15, 8.8, 969, 982.3, 986, METHODS, METHOD_COLORS)
for bx0, sx0, tx in [(257.7, 259.3, 276.7), (616.7, 618.3, 635.7), (975.3, 977, 994.3)]:
    legend((bx0, 339.3, bx0 + 44, 371.7), 345, 9.65, sx0, sx0 + 13.4, tx, STEP_NAMES, STEP_COLORS)

layout["annotations"] = annotations
layout["shapes"] = shapes
fig.update_layout(**layout)

fig.write_html("out.html", config={"displayModeBar": False, "staticPlot": True},
               post_script="document.body.style.margin='0';document.body.style.padding='0';")
